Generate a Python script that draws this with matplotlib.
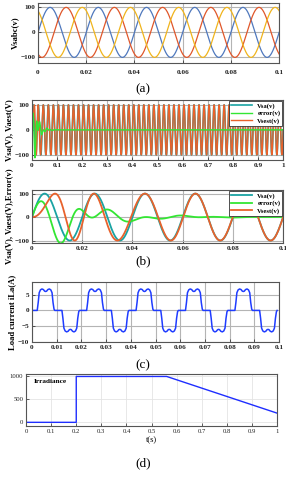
import numpy as np
import matplotlib
matplotlib.use("Agg")
import matplotlib.pyplot as plt

# ---------------------------------------------
# ----           chart data                ----
# ---------------------------------------------

f_grid = 50.0            # Hz
v_amp = 100.0            # V
phase_shifts = [0, -120, 120]          # deg, a / b / c
phase_colors = ["#4f78bd", "#e0572a", "#f0b41c"]

# estimator phase lag transient: lag_amp * exp(-t/lag_tau) * sin(lag_w t)
lag_amp = 135.0          # deg
lag_tau = 0.017          # s
lag_w = 136.6            # rad/s

# load current, one positive half period (t in s, i in A)
i_period_t = [0.0, 0.0021, 0.0025, 0.0029, 0.0034, 0.0040, 0.0046, 0.0051, 0.0055,
              0.0059, 0.0064, 0.0070, 0.0076, 0.0081, 0.0085, 0.0089, 0.0092]
i_period_v = [0.0, 0.0, 2.5, 5.6, 6.5, 6.8, 6.6, 6.1, 6.0,
              6.1, 6.6, 6.8, 6.5, 5.6, 2.5, 0.4, 0.0]
n_periods = 5

# irradiance profile
irr_t = [0.0, 0.2, 0.2, 0.56, 1.0]
irr_v = [0, 0, 1000, 1000, 200]

# tick labels
ticks_short = [0, 0.02, 0.04, 0.06, 0.08, 0.1]
ticks_short_lbl = ["0", "0.02", "0.04", "0.06", "0.08", "0.1"]
ticks_long = [0, 0.1, 0.2, 0.3, 0.4, 0.5, 0.6, 0.7, 0.8, 0.9, 1]
ticks_long_lbl = ["0", "0.1", "0.2", "0.3", "0.4", "0.5", "0.6", "0.7", "0.8", "0.9", "1"]
ticks_c = [0, 0.01, 0.02, 0.03, 0.04, 0.05, 0.06, 0.07, 0.08, 0.09, 0.1]
ticks_c_lbl = ["0", "0.01", "0.02", "0.03", "0.04", "0.05", "0.06", "0.07", "0.08", "0.09", "0.1"]

# ---------------------------------------------
# ----   signals                             ----
# ---------------------------------------------

w = 2 * np.pi * f_grid
t_a = np.linspace(0, 0.1, 2000)
v_abc = [v_amp * np.sin(w * t_a + np.radians(p)) for p in phase_shifts]

t_b = np.linspace(0, 1.0, 200001)
vsa = v_amp * np.sin(w * t_b)
lag = np.radians(lag_amp) * np.exp(-t_b / lag_tau) * np.sin(lag_w * t_b)
vest = v_amp * np.sin(w * t_b - lag)
err = vsa - vest

# load current tiled over periods
i_t = np.concatenate([np.array(i_period_t) + 0.02 * k for k in range(n_periods)] +
                     [np.array(i_period_t) + 0.01 + 0.02 * k for k in range(n_periods)])
i_v = np.concatenate([np.array(i_period_v)] * n_periods + [-np.array(i_period_v)] * n_periods)
order = np.argsort(i_t, kind="stable")
i_t, i_v = i_t[order], i_v[order]

# ---------------------------------------------
# ----   figure                             ----
# ---------------------------------------------

plt.rcParams["font.family"] = ["Liberation Serif", "DejaVu Serif"]
fig = plt.figure(figsize=(2.86, 4.8), dpi=100)

tick_fs = 5.2
lab_fs = 6.2
grid_col = "#b4b4b4"
frame_col = "#555555"
cap_fs = 9.5


def style(ax, bold=True):
    ax.tick_params(direction="in", length=2, width=0.5, labelsize=tick_fs, pad=2,
                   colors="#222222")
    for lbl in ax.get_xticklabels() + ax.get_yticklabels():
        lbl.set_fontweight("bold" if bold else "normal")
    for s in ax.spines.values():
        s.set_color(frame_col)
        s.set_linewidth(0.8)


def legend(ax, handles, labels):
    leg = ax.legend(handles, labels, loc="upper right",
                    prop={"weight": "bold", "size": 4.8},
                    handlelength=3.2, borderpad=0.3, labelspacing=0.25, framealpha=1,
                    fancybox=False, edgecolor="#333333", borderaxespad=0.1)
    leg.get_frame().set_linewidth(0.6)


# (a)
ax1 = fig.add_axes([0.133, 0.869, 0.843, 0.125])
for vv, c in zip(v_abc, phase_colors):
    ax1.plot(t_a, vv, color=c, lw=0.9)
ax1.set_xlim(0, 0.1)
ax1.set_ylim(-122, 118)
ax1.set_yticks([-100, 0, 100])
ax1.set_xticks(ticks_short)
ax1.set_xticklabels(ticks_short_lbl)
ax1.grid(True, color=grid_col, lw=0.8)
ax1.set_ylabel("Vsabc(v)", fontsize=lab_fs, fontweight="bold", labelpad=1)
style(ax1)
ax1.tick_params(axis="x", pad=5)
fig.text(0.5, 0.815, "(a)", ha="center", va="center", fontsize=cap_fs)

# (b) top
ax2 = fig.add_axes([0.112, 0.667, 0.878, 0.125])
step = 20
l1, = ax2.plot(t_b[::step], vsa[::step], color="#1aa3a3", lw=1.2)
l3, = ax2.plot(t_b[::step], vest[::step], color="#e8622c", lw=1.0)
l2, = ax2.plot(t_b[::step], err[::step], color="#33e633", lw=1.0)
ax2.set_xlim(0, 1)
ax2.set_ylim(-120, 120)
ax2.set_yticks([-100, 0, 100])
ax2.set_xticks(ticks_long)
ax2.set_xticklabels(ticks_long_lbl)
ax2.grid(True, color=grid_col, lw=0.8)
ax2.set_ylabel("Vsa(V), Vaest(V)", fontsize=lab_fs, fontweight="bold", labelpad=1)
style(ax2)
legend(ax2, [l1, l2, l3], ["Vsa(v)", "error(v)", "Vsest(v)"])

# (b) bottom
ax3 = fig.add_axes([0.112, 0.494, 0.878, 0.110])
m1, = ax3.plot(t_b, vsa, color="#1aa3a3", lw=1.3)
m2, = ax3.plot(t_b, err, color="#33e633", lw=1.3)
m3, = ax3.plot(t_b, vest, color="#e8622c", lw=1.3)
ax3.set_xlim(0, 0.1)
ax3.set_ylim(-110, 115)
ax3.set_yticks([-100, 0, 100])
ax3.set_xticks(ticks_short)
ax3.set_xticklabels(ticks_short_lbl)
ax3.grid(True, color=grid_col, lw=0.8)
ax3.set_ylabel("Vsa(V), Vaest(V),Error(v)", fontsize=lab_fs, fontweight="bold", labelpad=1)
style(ax3)
legend(ax3, [m1, m2, m3], ["Vsa(v)", "error(v)", "Vsest(v)"])
fig.text(0.5, 0.456, "(b)", ha="center", va="center", fontsize=cap_fs)

# (c)
ax4 = fig.add_axes([0.112, 0.2875, 0.864, 0.125])
ax4.plot(i_t, i_v, color="#1f3cff", lw=1.1)
ax4.set_xlim(0, 0.1)
ax4.set_ylim(-10, 9)
ax4.set_yticks([-10, -5, 0, 5])
ax4.set_xticks(ticks_c)
ax4.set_xticklabels(ticks_c_lbl)
ax4.grid(True, color=grid_col, lw=0.8)
ax4.set_ylabel("Load current iLa(A)", fontsize=lab_fs, fontweight="bold", labelpad=1)
style(ax4)
fig.text(0.5, 0.24, "(c)", ha="center", va="center", fontsize=cap_fs)

# (d)
ax5 = fig.add_axes([0.091, 0.1125, 0.878, 0.108])
ax5.plot(irr_t, irr_v, color="#1f2eff", lw=1.0)
ax5.set_xlim(0, 1)
ax5.set_ylim(-80, 1050)
ax5.set_yticks([0, 500, 1000])
ax5.set_xticks(ticks_long)
ax5.set_xticklabels(ticks_long_lbl)
ax5.grid(True, color="#e4e4e4", lw=0.6)
ax5.text(0.03, 900, "Irradiance", fontsize=5.2, fontweight="bold", va="center")
ax5.set_xlabel("t(s)", fontsize=6, labelpad=2)
style(ax5, bold=False)
ax5.tick_params(labelsize=4.8)
fig.text(0.5, 0.035, "(d)", ha="center", va="center", fontsize=cap_fs)

fig.savefig("out.png", dpi=100)
